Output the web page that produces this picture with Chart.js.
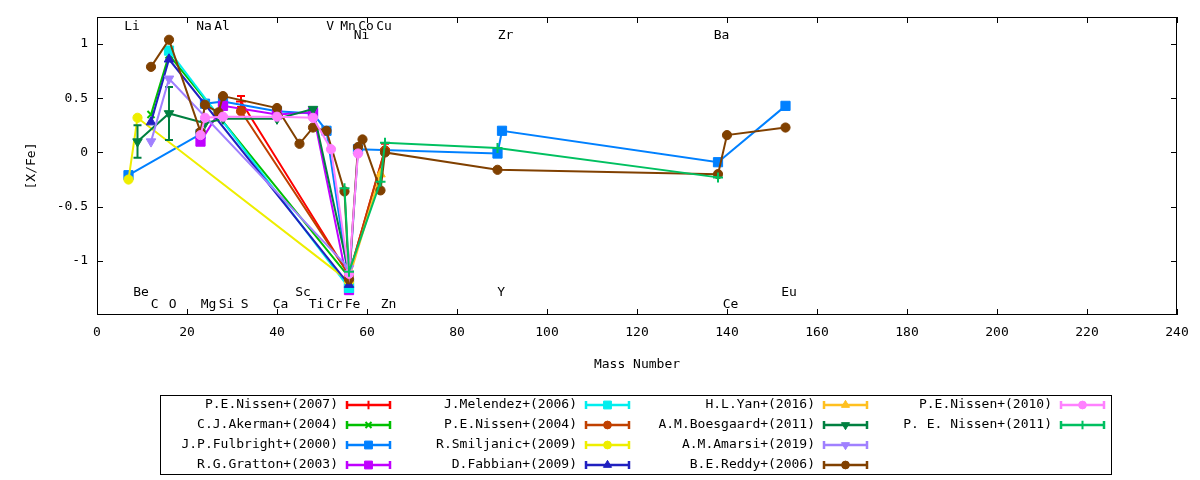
<!DOCTYPE html>
<html>
<head>
<meta charset="utf-8">
<script src="https://cdn.jsdelivr.net/npm/chart.js@4.4.1/dist/chart.umd.min.js"></script>
<style>
  html, body { margin: 0; padding: 0; background: #fff; }
  #wrap { width: 1200px; height: 480px; }
</style>
</head>
<body>
<div id="wrap"><canvas id="chart" width="1200" height="480"></canvas></div>
<script>
/* [X/Fe] vs mass number, several literature sources. */

// elements and the mass number used on the x axis
const elements    = ['Li','Be','C','O','Na','Mg','Al','Si','S','Ca','Sc','Ti','V','Cr','Mn','Fe','Ni','Co','Cu','Zn','Y','Zr','Ba','Ce','Eu'];
const massNumbers = [7, 9, 12, 16, 23, 24, 27, 28, 32, 40, 45, 48, 51, 52, 55, 56, 58, 59, 63, 64, 89, 90, 138, 140, 153];

// element names written inside the frame (two rows on top, two at the bottom)
const labelsTop1 = ['Li','Na','Al','V','Mn','Co','Cu'];
const labelsTop2 = ['Ni','Zr','Ba'];
const labelsBot1 = ['Be','Sc','Y','Eu'];
const labelsBot2 = ['C','O','Mg','Si','S','Ca','Ti','Cr','Fe','Zn','Ce'];

const xTicks = [0, 20, 40, 60, 80, 100, 120, 140, 160, 180, 200, 220, 240];
const yTicks = [-1, -0.5, 0, 0.5, 1];

// [element, [X/Fe], error]
const nissen2007   = [['S',0.47,0.05],['Fe',-1.13,0],['Zn',0.03,0.05]];
const akerman2004  = [['C',0.35,0],['O',0.9,0],['Fe',-1.15,0]];
const fulbright2000 = [['Li',-0.21,0],['Na',0.17,0],['Mg',0.45,0],['Si',0.47,0],['Ca',0.38,0],['Ti',0.36,0],['V',0.2,0],
                       ['Fe',-1.2,0],['Ni',0.03,0],['Y',-0.01,0],['Zr',0.2,0],['Ba',-0.09,0],['Eu',0.43,0]];
const gratton2003  = [['Na',0.1,0],['Si',0.43,0],['Ca',0.35,0],['Ti',0.37,0],['Fe',-1.27,0]];
const melendez2006 = [['O',0.94,0],['Fe',-1.25,0]];
const nissen2004   = [['S',0.38,0],['Fe',-1.13,0],['Zn',0.02,0]];
const smiljanic2009 = [['Li',-0.25,0],['Be',0.32,0],['Fe',-1.19,0]];
const fabbian2009  = [['C',0.28,0],['O',0.86,0],['Fe',-1.22,0]];
const yan2016      = [['Fe',-1.16,0],['Cu',-0.2,0]];
const boesgaard2011 = [['Be',0.1,0.15],['O',0.36,0.245],['Mg',0.27,0],['Si',0.31,0],['Ca',0.31,0],['Ti',0.4,0],['Fe',-1.12,0]];
const amarsi2019   = [['C',0.1,0],['O',0.68,0],['Fe',-1.07,0]];
const reddy2006    = [['C',0.79,0],['O',1.04,0],['Na',0.19,0],['Mg',0.44,0],['Al',0.37,0],['Si',0.52,0],['Ca',0.41,0],
                      ['Sc',0.08,0],['Ti',0.23,0],['V',0.2,0],['Mn',-0.36,0],['Fe',-1.17,0],['Ni',0.05,0],['Co',0.12,0],
                      ['Cu',-0.35,0],['Zn',0.0,0],['Y',-0.16,0],['Ba',-0.2,0],['Ce',0.16,0],['Eu',0.23,0]];
const nissen2010   = [['Na',0.16,0],['Mg',0.32,0],['Si',0.33,0],['Ca',0.33,0],['Ti',0.32,0],['Cr',0.03,0],['Fe',-1.12,0],['Ni',-0.01,0]];
const nissen2011   = [['Mn',-0.33,0],['Fe',-1.1,0],['Cu',-0.27,0],['Zn',0.09,0],['Y',0.04,0],['Ba',-0.23,0]];

const seriesNames = ['P.E.Nissen+(2007)','C.J.Akerman+(2004)','J.P.Fulbright+(2000)','R.G.Gratton+(2003)',
                     'J.Melendez+(2006)','P.E.Nissen+(2004)','R.Smiljanic+(2009)','D.Fabbian+(2009)',
                     'H.L.Yan+(2016)','A.M.Boesgaard+(2011)','A.M.Amarsi+(2019)','B.E.Reddy+(2006)',
                     'P.E.Nissen+(2010)','P. E. Nissen+(2011)'];
const seriesData = [nissen2007, akerman2004, fulbright2000, gratton2003, melendez2006, nissen2004, smiljanic2009,
                    fabbian2009, yan2016, boesgaard2011, amarsi2019, reddy2006, nissen2010, nissen2011];

// styling (kept apart from the values)
const seriesColors = ['#ff0000','#00c000','#0080ff','#c000ff','#00eeee','#c04000','#eeee00',
                      '#2020c0','#ffc020','#008040','#a080ff','#804000','#ff80ff','#00c060'];
const seriesMarks  = ['cross','crossRot','rect','rect','rect','circle','circle',
                      'triangle','triangle','triDown','triDown','circle','circle','cross'];

const FONT = "'DejaVu Sans Mono', 'Liberation Mono', monospace";
const massOf = {};
elements.forEach((e, i) => massOf[e] = massNumbers[i]);

function markOpts(m) {
  if (m === 'rect')     return { pointStyle: 'rect', rotation: 0, radius: 6.5, borderWidth: 1 };
  if (m === 'circle')   return { pointStyle: 'circle', rotation: 0, radius: 4.6, borderWidth: 1 };
  if (m === 'triangle') return { pointStyle: 'triangle', rotation: 0, radius: 5.5, borderWidth: 1 };
  if (m === 'triDown')  return { pointStyle: 'triangle', rotation: 180, radius: 5.5, borderWidth: 1 };
  if (m === 'crossRot') return { pointStyle: 'crossRot', rotation: 0, radius: 5, borderWidth: 2 };
  return { pointStyle: 'cross', rotation: 0, radius: 5, borderWidth: 2 };
}

const N = seriesData.length;
const datasets = seriesData.map((pts, i) => {
  const mo = markOpts(seriesMarks[i]);
  return {
    label: seriesNames[i],
    data: pts.map(p => ({ x: massOf[p[0]], y: p[1] })),
    showLine: true,
    tension: 0,
    borderColor: seriesColors[i],
    backgroundColor: seriesColors[i],
    borderWidth: 2,
    pointStyle: mo.pointStyle,
    pointRotation: mo.rotation,
    pointRadius: mo.radius,
    pointBorderWidth: mo.borderWidth,
    pointBorderColor: seriesColors[i],
    pointBackgroundColor: seriesColors[i],
    order: N - i               // later series drawn on top, like gnuplot
  };
});

// vertical error bars with small caps, under each series' markers
const errorBars = {
  id: 'errorBars',
  beforeDatasetDraw(chart, args) {
    const pts = seriesData[args.index];
    const { ctx, scales: { x, y } } = chart;
    ctx.save();
    ctx.strokeStyle = seriesColors[args.index];
    ctx.lineWidth = 2;
    pts.forEach(p => {
      if (!p[2]) return;
      const px = x.getPixelForValue(massOf[p[0]]);
      const y1 = y.getPixelForValue(p[1] - p[2]);
      const y2 = y.getPixelForValue(p[1] + p[2]);
      ctx.beginPath();
      ctx.moveTo(px, y1); ctx.lineTo(px, y2);
      ctx.moveTo(px - 4, y1); ctx.lineTo(px + 4, y1);
      ctx.moveTo(px - 4, y2); ctx.lineTo(px + 4, y2);
      ctx.stroke();
    });
    ctx.restore();
  }
};

// frame, inward ticks on all four sides, element names, key box
const decorations = {
  id: 'decorations',
  afterDatasetsDraw(chart) {
    const { ctx, chartArea: a, scales: { x, y } } = chart;
    ctx.save();
    ctx.strokeStyle = '#000';
    ctx.lineWidth = 1;
    ctx.strokeRect(Math.round(a.left) + 0.5, Math.round(a.top) + 0.5,
                   Math.round(a.right - a.left) - 1, Math.round(a.bottom - a.top) - 1);
    ctx.beginPath();
    xTicks.forEach(v => {
      const px = Math.round(x.getPixelForValue(v)) + 0.5;
      ctx.moveTo(px, a.bottom); ctx.lineTo(px, a.bottom - 6);
      ctx.moveTo(px, a.top); ctx.lineTo(px, a.top + 6);
    });
    yTicks.forEach(v => {
      const py = Math.round(y.getPixelForValue(v)) + 0.5;
      ctx.moveTo(a.left, py); ctx.lineTo(a.left + 6, py);
      ctx.moveTo(a.right, py); ctx.lineTo(a.right - 6, py);
    });
    ctx.stroke();

    ctx.fillStyle = '#000';
    ctx.font = '13px ' + FONT;
    ctx.textAlign = 'center';
    ctx.textBaseline = 'middle';
    const rows = [[labelsTop1, 1.165], [labelsTop2, 1.08], [labelsBot1, -1.29], [labelsBot2, -1.40]];
    rows.forEach(([names, yv]) => {
      names.forEach(n => ctx.fillText(n, x.getPixelForValue(massOf[n] + 0.8), y.getPixelForValue(yv)));
    });
    ctx.restore();
  },
  afterDraw(chart) {
    const ctx = chart.ctx;
    ctx.save();
    ctx.strokeStyle = '#000';
    ctx.lineWidth = 1;
    ctx.strokeRect(160.5, 395.5, 951, 79);
    ctx.font = '13px ' + FONT;
    ctx.textAlign = 'right';
    ctx.textBaseline = 'middle';
    const colEnds = [338, 577, 815, 1052];
    seriesNames.forEach((name, i) => {
      const col = Math.floor(i / 4), row = i % 4;
      const tx = colEnds[col], ty = 405 + row * 20;
      ctx.fillStyle = '#000';
      ctx.fillText(name, tx, ty);
      const x1 = tx + 9, x2 = tx + 52, c = seriesColors[i];
      ctx.strokeStyle = c;
      ctx.fillStyle = c;
      ctx.lineWidth = 2.5;
      ctx.beginPath();
      ctx.moveTo(x1, ty); ctx.lineTo(x2, ty);
      ctx.moveTo(x1, ty - 4); ctx.lineTo(x1, ty + 4);
      ctx.moveTo(x2, ty - 4); ctx.lineTo(x2, ty + 4);
      ctx.stroke();
      ctx.lineWidth = 1;
      const mo = markOpts(seriesMarks[i]);
      ctx.lineWidth = mo.borderWidth;
      Chart.helpers.drawPoint(ctx, { pointStyle: mo.pointStyle, rotation: mo.rotation,
                                     radius: mo.radius * 0.85, borderWidth: mo.borderWidth }, (x1 + x2) / 2, ty);
    });
    ctx.restore();
  }
};

Chart.defaults.font.family = FONT;
Chart.defaults.font.size = 13;
Chart.defaults.color = '#000';

new Chart(document.getElementById('chart'), {
  type: 'scatter',
  data: { datasets },
  options: {
    responsive: false,
    animation: false,
    events: [],
    layout: { padding: { left: 0, top: 17, right: 23, bottom: 105 } },
    plugins: { legend: { display: false }, tooltip: { enabled: false } },
    scales: {
      x: {
        type: 'linear', min: 0, max: 240,
        afterBuildTicks(s) { s.ticks = xTicks.map(v => ({ value: v })); },
        afterFit(s) { s.height = 60; },
        ticks: { padding: 10, autoSkip: false, maxRotation: 0, callback: v => String(v) },
        grid: { display: false, drawTicks: false },
        border: { display: false },
        title: { display: true, text: 'Mass Number', padding: { top: 0, bottom: 3 } }
      },
      y: {
        type: 'linear', min: -1.5, max: 1.25,
        afterBuildTicks(s) { s.ticks = yTicks.map(v => ({ value: v })); },
        afterFit(s) { s.width = 97; },
        ticks: { padding: 9, callback: v => String(v) },
        grid: { display: false, drawTicks: false },
        border: { display: false },
        title: { display: true, text: '[X/Fe]', padding: { top: 24, bottom: 0 } }
      }
    }
  },
  plugins: [errorBars, decorations]
});
</script>
</body>
</html>
